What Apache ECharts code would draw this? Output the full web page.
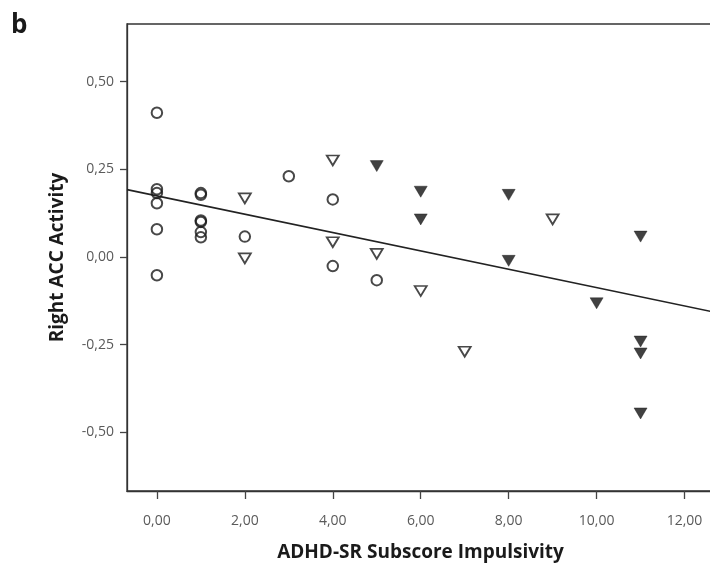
<!DOCTYPE html>
<html>
<head>
<meta charset="utf-8">
<script src="https://cdn.jsdelivr.net/npm/echarts@6/dist/echarts.min.js"></script>
<style>html,body{margin:0;padding:0;background:#fff}#c{width:710px;height:567px}</style>
</head>
<body>
<div id="c"></div>
<script>
// Circles
const circleX = [0, 0, 0, 0, 0, 0, 1, 1, 1, 1, 1, 1, 2, 3, 4, 4, 5];
const circleY = [0.411, 0.193, 0.182, 0.153, 0.079, -0.052, 0.182, 0.177, 0.104, 0.100, 0.071, 0.056, 0.058, 0.230, 0.164, -0.026, -0.066];
// Open triangles
const openTriX = [2, 2, 4, 4, 5, 6, 7, 9];
const openTriY = [0.167, -0.004, 0.275, 0.042, 0.009, -0.097, -0.270, 0.107];
// Filled triangles
const fillTriX = [5, 6, 6, 8, 8, 10, 11, 11, 11, 11];
const fillTriY = [0.259, 0.186, 0.107, 0.177, -0.011, -0.132, 0.058, -0.241, -0.275, -0.446];
// Regression line endpoints
const lineX = [-0.68, 12.67];
const lineY = [0.192, -0.157];
const xTicks = [0, 2, 4, 6, 8, 10, 12];
const yTicks = [-0.5, -0.25, 0, 0.25, 0.5];

const zip = (a, b) => a.map((v, i) => [v, b[i]]);
const fmt = v => v.toFixed(2).replace('.', ',');
const FONT = 'Open Sans';
const chart = echarts.init(document.getElementById('c'));
chart.setOption({
  animation: false,
  title: {
    text: 'b', left: 6, top: 8,
    textStyle: { fontFamily: FONT, fontWeight: 'bold', fontSize: 26, color: '#1a1a1a' }
  },
  grid: { left: 127, top: 24, right: -4, bottom: 76, outerBoundsMode: 'none', containLabel: false, show: true, borderColor: '#333', borderWidth: 1.3, backgroundColor: 'transparent' },
  xAxis: {
    type: 'value', min: -0.68, max: 12.67,
    name: 'ADHD-SR Subscore Impulsivity', nameLocation: 'middle', nameGap: 52,
    nameTextStyle: { fontFamily: FONT, fontWeight: 'bold', fontSize: 19, color: '#1a1a1a' },
    axisLine: { show: true, onZero: false, lineStyle: { color: '#333', width: 1.3 } },
    axisTick: { show: true, length: 8, customValues: xTicks, lineStyle: { color: '#444', width: 1.3 } },
    axisLabel: { customValues: xTicks, formatter: fmt, margin: 23, fontFamily: FONT, fontSize: 14, color: '#5a5a5a' },
    splitLine: { show: false }
  },
  yAxis: {
    type: 'value', min: -0.667, max: 0.664,
    name: 'Right ACC Activity', nameLocation: 'middle', nameGap: 60,
    nameTextStyle: { fontFamily: FONT, fontWeight: 'bold', fontSize: 19, color: '#1a1a1a' },
    axisLine: { show: true, onZero: false, lineStyle: { color: '#333', width: 1.3 } },
    axisTick: { show: true, length: 7, customValues: yTicks, lineStyle: { color: '#444', width: 1.3 } },
    axisLabel: { customValues: yTicks, formatter: fmt, margin: 13, fontFamily: FONT, fontSize: 14, color: '#5a5a5a' },
    splitLine: { show: false }
  },
  series: [
    {
      type: 'line', data: zip(lineX, lineY), symbol: 'none', silent: true,
      lineStyle: { color: '#222', width: 1.6 }, z: 1
    },
    {
      type: 'scatter', data: zip(circleX, circleY), symbol: 'circle', symbolSize: 10.5,
      itemStyle: { color: 'rgba(255,255,255,0)', borderColor: '#1a1a1a', borderWidth: 2 }, z: 3
    },
    {
      type: 'scatter', data: zip(openTriX, openTriY), symbol: 'triangle', symbolRotate: 180, symbolSize: [12, 10],
      itemStyle: { color: '#fff', borderColor: '#1a1a1a', borderWidth: 1.8 }, z: 3
    },
    {
      type: 'scatter', data: zip(fillTriX, fillTriY), symbol: 'triangle', symbolRotate: 180, symbolSize: [13, 11],
      itemStyle: { color: '#111', borderColor: '#111', borderWidth: 0.5 }, z: 3
    }
  ]
});
</script>
</body>
</html>
